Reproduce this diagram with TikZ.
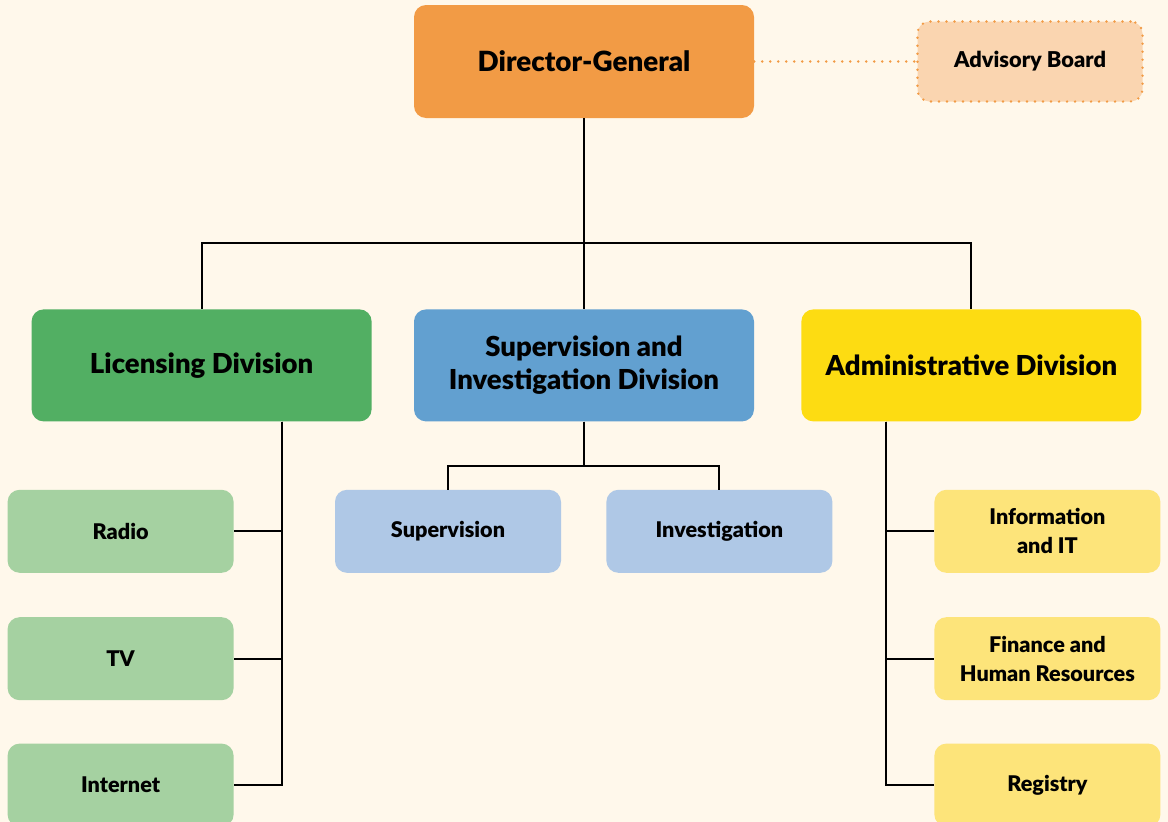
\documentclass[tikz,border=0pt]{standalone}
\usepackage{fontspec}
\setmainfont{Lato}[BoldFont={Lato Black}]
\usepackage{tikz}
\usetikzlibrary{positioning,backgrounds}
\definecolor{paper}{HTML}{FFF8EB}
\definecolor{dgorange}{HTML}{F29B45}
\definecolor{advorange}{HTML}{FAD5B0}
\definecolor{licgreen}{HTML}{52AF63}
\definecolor{subgreen}{HTML}{A5D1A1}
\definecolor{sidblue}{HTML}{62A0D0}
\definecolor{subblue}{HTML}{AFC8E6}
\definecolor{admyellow}{HTML}{FDDC12}
\definecolor{subyellow}{HTML}{FDE47A}
\tikzset{
 dots/.style
  = {line width=2.6pt, line cap=round, dash pattern=on 0pt off 8pt},
 dg/.style
  = {rectangle, fill=dgorange, rounded corners=12pt, minimum width=340pt,
     minimum height=113pt, font=\fontsize{27.8}{30}\selectfont\bfseries},
 adv/.style
  = {rectangle, fill=advorange, draw=dgorange, dots,
     rounded corners=12pt, minimum width=225pt, minimum height=80pt,
     font=\fontsize{21.8}{24}\selectfont\bfseries},
 div/.style
  = {rectangle, rounded corners=12pt, minimum width=340pt, minimum height=112pt,
     align=center, font=\fontsize{27.5}{33}\selectfont\bfseries},
 sub/.style
  = {rectangle, rounded corners=12pt, minimum width=226pt, minimum height=83pt,
     align=center, font=\fontsize{21.6}{29}\selectfont\bfseries},
 l/.style
  = {draw, line width=2pt},
 ll/.style
  = {draw=dgorange, dots},
}

\begin{document}
\begin{tikzpicture}[x=1pt, y=1pt, auto]
    \useasboundingbox (0,0) rectangle (1168,-822);
    \fill [paper] (0,0) rectangle (1168,-822);

    \node [dg] (dg) at (584,-61.5) {Director-General};
    \node [adv, right = 162pt of dg] (adv) {Advisory Board};

    \node [div, fill=sidblue, below = 191pt of dg] (sid) {Supervision and\\ Investigation Division};
    \node [div, fill=licgreen, left = 42pt of sid] (lic) {Licensing Division};
    \node [div, fill=admyellow, right = 47pt of sid] (adm) {Administrative Division};

    \node [sub, fill=subgreen, below = 68pt of lic, xshift=-81pt] (radio) {Radio};
    \node [sub, fill=subgreen, below = 44pt of radio] (tv) {TV};
    \node [sub, fill=subgreen, below = 43pt of tv] (internet) {Internet};

    \node [sub, fill=subblue, below = 68pt of sid, xshift=-136pt] (supv) {Supervision};
    \node [sub, fill=subblue, right = 45pt of supv] (inv) {Investigation};

    \node [sub, fill=subyellow, below = 68pt of adm, xshift=76pt] (info) {Information\\ and IT};
    \node [sub, fill=subyellow, below = 44pt of info] (fin) {Finance and\\ Human Resources};
    \node [sub, fill=subyellow, below = 43pt of fin] (reg) {Registry};

    \path [ll] (dg) -- (adv);
    \path [l] (dg.south) -- (sid.north);
    \path [l] (dg.south) -- ++(0,-125) -| (lic.north);
    \path [l] (dg.south) -- ++(0,-125) -| (adm.north);

    \path [l] (sid.south) -- ++(0,-44) -| (supv.north);
    \path [l] (sid.south) -- ++(0,-44) -| (inv.north);

    \path [l] ([xshift=80pt]lic.south) |- (radio.east);
    \path [l] ([xshift=80pt]lic.south) |- (tv.east);
    \path [l] ([xshift=80pt]lic.south) |- (internet.east);

    \path [l] ([xshift=-85pt]adm.south) |- (info.west);
    \path [l] ([xshift=-85pt]adm.south) |- (fin.west);
    \path [l] ([xshift=-85pt]adm.south) |- (reg.west);
  \end{tikzpicture}
\end{document}
